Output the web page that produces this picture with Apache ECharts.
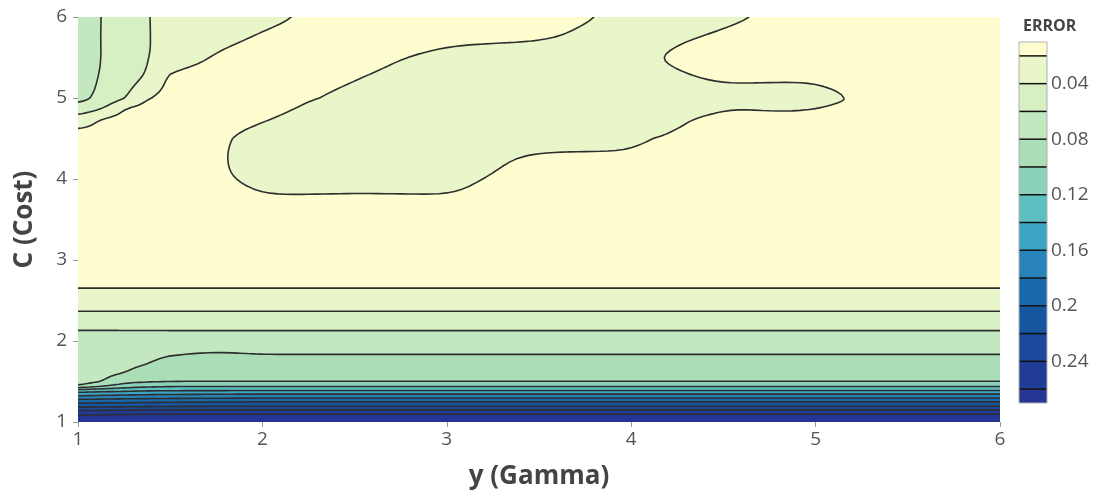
<!DOCTYPE html>
<html>
<head>
<meta charset="utf-8">
<script src="https://cdn.jsdelivr.net/npm/echarts@6/dist/echarts.min.js"></script>
<style>
  html, body { margin: 0; padding: 0; background: #fff; }
  #main { width: 1097px; height: 490px; }
</style>
</head>
<body>
<div id="main"></div>
<script>
// grid of the contour: gamma along x, cost along y
var gammaValues = [1, 1.125, 1.25, 1.375, 1.5, 1.75, 2, 2.25, 2.5, 2.75, 3, 3.25, 3.5, 3.75, 4, 4.25, 4.5, 4.75, 5, 5.25, 5.5, 5.75, 6];
var costValues = [1, 1.05, 1.1, 1.15, 1.2, 1.25, 1.3, 1.35, 1.4, 1.45, 1.5, 1.6, 1.7, 1.8, 1.9, 2, 2.25, 2.5, 2.75, 3, 3.25, 3.5, 3.75, 4, 4.25, 4.5, 4.625, 4.75, 4.875, 5, 5.25, 5.5, 5.75, 6];

// error, one row per cost value
var errorValues = [
  [0.272, 0.272, 0.272, 0.272, 0.272, 0.272, 0.272, 0.272, 0.272, 0.272, 0.272, 0.272, 0.272, 0.272, 0.272, 0.272, 0.272, 0.272, 0.272, 0.272, 0.272, 0.272, 0.272],
  [0.265, 0.2655, 0.266, 0.266, 0.266, 0.266, 0.266, 0.266, 0.266, 0.266, 0.266, 0.266, 0.266, 0.266, 0.266, 0.266, 0.266, 0.266, 0.266, 0.266, 0.266, 0.266, 0.266],
  [0.257, 0.258, 0.259, 0.26, 0.26, 0.26, 0.26, 0.26, 0.26, 0.26, 0.26, 0.26, 0.26, 0.26, 0.26, 0.26, 0.26, 0.26, 0.26, 0.26, 0.26, 0.26, 0.26],
  [0.236, 0.237, 0.238, 0.239, 0.24, 0.24, 0.24, 0.24, 0.24, 0.24, 0.24, 0.24, 0.24, 0.24, 0.24, 0.24, 0.24, 0.24, 0.24, 0.24, 0.24, 0.24, 0.24],
  [0.212, 0.213, 0.214, 0.215, 0.216, 0.217, 0.217, 0.217, 0.217, 0.217, 0.217, 0.217, 0.217, 0.217, 0.217, 0.217, 0.217, 0.217, 0.217, 0.217, 0.217, 0.217, 0.217],
  [0.194, 0.195, 0.196, 0.197, 0.198, 0.199, 0.2, 0.2, 0.2, 0.2, 0.2, 0.2, 0.2, 0.2, 0.2, 0.2, 0.2, 0.2, 0.2, 0.2, 0.2, 0.2, 0.2],
  [0.17, 0.172, 0.174, 0.175, 0.176, 0.177, 0.178, 0.178, 0.178, 0.178, 0.178, 0.178, 0.178, 0.178, 0.178, 0.178, 0.178, 0.178, 0.178, 0.178, 0.178, 0.178, 0.178],
  [0.148, 0.151, 0.153, 0.155, 0.156, 0.157, 0.158, 0.158, 0.158, 0.158, 0.158, 0.158, 0.158, 0.158, 0.158, 0.158, 0.158, 0.158, 0.158, 0.158, 0.158, 0.158, 0.158],
  [0.122, 0.126, 0.13, 0.133, 0.134, 0.1345, 0.1345, 0.1345, 0.1345, 0.1345, 0.1345, 0.1345, 0.1345, 0.1345, 0.1345, 0.1345, 0.1345, 0.1345, 0.1345, 0.1345, 0.1345, 0.1345, 0.1345],
  [0.0795, 0.095, 0.108, 0.113, 0.1155, 0.1155, 0.1155, 0.1155, 0.1155, 0.1155, 0.1155, 0.1155, 0.1155, 0.1155, 0.1155, 0.1155, 0.1155, 0.1155, 0.1155, 0.1155, 0.1155, 0.1155, 0.1155],
  [0.0775, 0.079, 0.094, 0.098, 0.0995, 0.0995, 0.0995, 0.0995, 0.0995, 0.0995, 0.0995, 0.0995, 0.0995, 0.0995, 0.0995, 0.0995, 0.0995, 0.0995, 0.0995, 0.0995, 0.0995, 0.0995, 0.0995],
  [0.075, 0.0765, 0.08, 0.089, 0.093, 0.0955, 0.0955, 0.0955, 0.0955, 0.0955, 0.0955, 0.0955, 0.0955, 0.0955, 0.0955, 0.0955, 0.0955, 0.0955, 0.0955, 0.0955, 0.0955, 0.0955, 0.0955],
  [0.0725, 0.074, 0.077, 0.0805, 0.087, 0.0905, 0.0905, 0.0905, 0.0905, 0.0905, 0.0905, 0.0905, 0.0905, 0.0905, 0.0905, 0.0905, 0.0905, 0.0905, 0.0905, 0.0905, 0.0905, 0.0905, 0.0905],
  [0.071, 0.0722, 0.0745, 0.0772, 0.0808, 0.0838, 0.0825, 0.0825, 0.0825, 0.0825, 0.0825, 0.0825, 0.0825, 0.0825, 0.0825, 0.0825, 0.0825, 0.0825, 0.0825, 0.0825, 0.0825, 0.0825, 0.0825],
  [0.0698, 0.0705, 0.072, 0.0735, 0.0755, 0.0775, 0.0755, 0.0755, 0.0755, 0.0755, 0.0755, 0.0755, 0.0755, 0.0755, 0.0755, 0.0755, 0.0755, 0.0755, 0.0755, 0.0755, 0.0755, 0.0755, 0.0755],
  [0.0685, 0.0685, 0.0685, 0.0685, 0.0685, 0.0685, 0.0685, 0.0685, 0.0685, 0.0685, 0.0685, 0.0685, 0.0685, 0.0685, 0.0685, 0.0685, 0.0685, 0.0685, 0.0685, 0.0685, 0.0685, 0.0685, 0.0685],
  [0.0508, 0.0508, 0.0508, 0.0508, 0.0508, 0.0508, 0.0508, 0.0508, 0.0508, 0.0508, 0.0508, 0.0508, 0.0508, 0.0508, 0.0508, 0.0508, 0.0508, 0.0508, 0.0508, 0.0508, 0.0508, 0.0508, 0.0508],
  [0.0283, 0.0283, 0.0283, 0.0283, 0.0283, 0.0283, 0.0283, 0.0283, 0.0283, 0.0283, 0.0283, 0.0283, 0.0283, 0.0283, 0.0283, 0.0283, 0.0283, 0.0283, 0.0283, 0.0283, 0.0283, 0.0283, 0.0283],
  [0.0159, 0.0159, 0.0159, 0.0159, 0.0159, 0.0159, 0.0159, 0.0159, 0.0159, 0.0159, 0.0159, 0.0159, 0.0159, 0.0159, 0.0159, 0.0159, 0.0159, 0.0159, 0.0159, 0.0159, 0.0159, 0.0159, 0.0159],
  [0.014, 0.014, 0.014, 0.014, 0.014, 0.014, 0.014, 0.014, 0.014, 0.014, 0.014, 0.014, 0.014, 0.014, 0.014, 0.014, 0.014, 0.014, 0.014, 0.014, 0.014, 0.014, 0.014],
  [0.013, 0.013, 0.013, 0.013, 0.013, 0.013, 0.013, 0.013, 0.013, 0.013, 0.013, 0.013, 0.013, 0.013, 0.013, 0.013, 0.013, 0.013, 0.013, 0.013, 0.013, 0.013, 0.013],
  [0.0125, 0.0125, 0.0125, 0.0125, 0.0125, 0.0125, 0.0125, 0.0125, 0.0125, 0.0125, 0.0125, 0.0125, 0.0125, 0.0125, 0.0125, 0.0125, 0.0125, 0.0125, 0.0125, 0.0125, 0.0125, 0.0125, 0.0125],
  [0.012, 0.012, 0.012, 0.012, 0.012, 0.0145, 0.0183, 0.0172, 0.0157, 0.0166, 0.0185, 0.016, 0.0125, 0.012, 0.012, 0.012, 0.012, 0.012, 0.012, 0.012, 0.012, 0.012, 0.012],
  [0.012, 0.012, 0.012, 0.012, 0.013, 0.018, 0.023, 0.028, 0.03, 0.0288, 0.0238, 0.0188, 0.0138, 0.012, 0.012, 0.012, 0.012, 0.012, 0.012, 0.012, 0.012, 0.012, 0.012],
  [0.012, 0.012, 0.012, 0.012, 0.0138, 0.0188, 0.0238, 0.0288, 0.03, 0.03, 0.0284, 0.0234, 0.016, 0.0157, 0.0172, 0.012, 0.012, 0.012, 0.012, 0.012, 0.012, 0.012, 0.012],
  [0.017, 0.0145, 0.012, 0.012, 0.0133, 0.0183, 0.0233, 0.0283, 0.03, 0.03, 0.03, 0.03, 0.03, 0.0276, 0.0226, 0.0176, 0.0126, 0.012, 0.012, 0.012, 0.012, 0.012, 0.012],
  [0.0195, 0.017, 0.0145, 0.012, 0.012, 0.0166, 0.0216, 0.0266, 0.03, 0.03, 0.03, 0.03, 0.03, 0.03, 0.0251, 0.0201, 0.0151, 0.012, 0.012, 0.012, 0.012, 0.012, 0.012],
  [0.0343, 0.0196, 0.0171, 0.0146, 0.0121, 0.0138, 0.0188, 0.0238, 0.0288, 0.03, 0.03, 0.03, 0.03, 0.03, 0.0278, 0.0228, 0.016, 0.0174, 0.0163, 0.013, 0.012, 0.012, 0.012],
  [0.0521, 0.0425, 0.0196, 0.0171, 0.0146, 0.012, 0.0164, 0.0214, 0.0264, 0.03, 0.03, 0.03, 0.03, 0.03, 0.03, 0.03, 0.021, 0.021, 0.0205, 0.0143, 0.012, 0.012, 0.012],
  [0.066, 0.0545, 0.042, 0.0196, 0.0171, 0.0121, 0.014, 0.019, 0.024, 0.029, 0.03, 0.03, 0.03, 0.03, 0.03, 0.028, 0.025, 0.025, 0.0245, 0.0181, 0.0134, 0.012, 0.012],
  [0.068, 0.0585, 0.0488, 0.0379, 0.016, 0.0142, 0.012, 0.0142, 0.0192, 0.0242, 0.0292, 0.03, 0.03, 0.03, 0.0272, 0.0222, 0.018, 0.0181, 0.0178, 0.013, 0.012, 0.012, 0.012],
  [0.07, 0.0598, 0.05, 0.0408, 0.031, 0.0178, 0.0128, 0.012, 0.0144, 0.0194, 0.0244, 0.0294, 0.03, 0.028, 0.023, 0.018, 0.013, 0.012, 0.012, 0.012, 0.012, 0.012, 0.012],
  [0.071, 0.0595, 0.0504, 0.0405, 0.0357, 0.026, 0.0181, 0.0131, 0.012, 0.013, 0.0156, 0.0156, 0.0178, 0.0234, 0.0272, 0.0222, 0.0172, 0.0122, 0.012, 0.012, 0.012, 0.012, 0.012],
  [0.072, 0.0597, 0.05, 0.0402, 0.037, 0.0306, 0.0243, 0.0184, 0.0134, 0.012, 0.012, 0.012, 0.0136, 0.0186, 0.0236, 0.0284, 0.0234, 0.0184, 0.0134, 0.012, 0.012, 0.012, 0.012]
];

var contourLevels = [0.02, 0.04, 0.06, 0.08, 0.1, 0.12, 0.14, 0.16, 0.18, 0.2, 0.22, 0.24, 0.26];
var colorbarRange = [0.01, 0.27];
var colorbarTicks = [0.04, 0.08, 0.12, 0.16, 0.2, 0.24];
var bandColors = ['#fefdd0', '#e8f6ca', '#d6efc3', '#c3e8bf', '#abdeb7', '#8bd1bb', '#5cc0c0',
                  '#3ba3c3', '#2783ba', '#1868ac', '#1656a1', '#1c489b', '#213c96', '#263594'];

errorValues.forEach(function (r, j) {
  if (r.length !== gammaValues.length) throw new Error('row ' + j + ' has ' + r.length + ' values');
});
if (errorValues.length !== costValues.length) throw new Error('rows: ' + errorValues.length);

var SUB = 6;          // sub-steps between grid nodes
var SMOOTH = 0.3 * SUB; // gaussian smoothing of the contour surface (in sub-steps)

function catmull(p0, p1, p2, p3, t) {
  var t2 = t * t, t3 = t2 * t;
  return 0.5 * (2 * p1 + (p2 - p0) * t + (2 * p0 - 5 * p1 + 4 * p2 - p3) * t2 + (3 * p1 - p0 - 3 * p2 + p3) * t3);
}

function refine(arr, linear) {
  var n = arr.length, out = [];
  for (var i = 0; i < n - 1; i++) {
    for (var s = 0; s < SUB; s++) {
      var t = s / SUB;
      if (linear) out.push(arr[i] + (arr[i + 1] - arr[i]) * t);
      else out.push(catmull(arr[Math.max(i - 1, 0)], arr[i], arr[i + 1], arr[Math.min(i + 2, n - 1)], t));
    }
  }
  out.push(arr[n - 1]);
  return out;
}

function blur1d(arr) {
  var r = Math.ceil(3 * SMOOTH), w = [], sum = 0, n = arr.length, out = [];
  for (var k = -r; k <= r; k++) { var g = Math.exp(-k * k / (2 * SMOOTH * SMOOTH)); w.push(g); sum += g; }
  for (var i = 0; i < n; i++) {
    var acc = 0;
    for (var k2 = -r; k2 <= r; k2++) acc += w[k2 + r] * arr[Math.min(n - 1, Math.max(0, i + k2))];
    out.push(acc / sum);
  }
  return out;
}

function f(v) { return v.toFixed(2); }

function renderContour(params, api) {
  var gFine = refine(gammaValues, true);
  var cFine = refine(costValues, true);
  var px = gFine.map(function (g) { return api.coord([g, costValues[0]])[0]; });
  var py = cFine.map(function (c) { return api.coord([gammaValues[0], c])[1]; });

  var rowsFine = errorValues.map(function (r) { return blur1d(refine(r)); });
  var z = [];
  for (var k = 0; k < cFine.length; k++) z.push([]);
  for (var i = 0; i < gFine.length; i++) {
    var col = blur1d(refine(rowsFine.map(function (r) { return r[i]; })));
    for (var k2 = 0; k2 < col.length; k2++) z[k2][i] = col[k2];
  }

  var children = [{
    type: 'rect',
    shape: { x: px[0], y: py[py.length - 1], width: px[px.length - 1] - px[0], height: py[0] - py[py.length - 1] },
    style: { fill: bandColors[0] }
  }];

  var lines = [];
  contourLevels.forEach(function (L, li) {
    var d = [], seg = [];
    for (var k = 0; k < cFine.length - 1; k++) {
      var runStart = -1;
      for (var i = 0; i <= gFine.length - 1; i++) {
        var full = i < gFine.length - 1 &&
          z[k][i] >= L && z[k][i + 1] >= L && z[k + 1][i + 1] >= L && z[k + 1][i] >= L;
        if (full) { if (runStart < 0) runStart = i; continue; }
        if (runStart >= 0) {
          d.push('M' + f(px[runStart]) + ' ' + f(py[k]) + 'L' + f(px[i]) + ' ' + f(py[k]) +
                 'L' + f(px[i]) + ' ' + f(py[k + 1]) + 'L' + f(px[runStart]) + ' ' + f(py[k + 1]) + 'Z');
          runStart = -1;
        }
        if (i === gFine.length - 1) break;
        var pts = [[px[i], py[k]], [px[i + 1], py[k]], [px[i + 1], py[k + 1]], [px[i], py[k + 1]]];
        var vals = [z[k][i], z[k][i + 1], z[k + 1][i + 1], z[k + 1][i]];
        if (vals[0] < L && vals[1] < L && vals[2] < L && vals[3] < L) continue;
        var poly = [], cross = [];
        for (var m = 0; m < 4; m++) {
          var a = pts[m], b = pts[(m + 1) % 4], va = vals[m], vb = vals[(m + 1) % 4];
          var ina = va >= L, inb = vb >= L;
          if (ina) poly.push(a);
          if (ina !== inb) {
            var t = (L - va) / (vb - va);
            var p = [a[0] + (b[0] - a[0]) * t, a[1] + (b[1] - a[1]) * t];
            poly.push(p);
            cross.push({ p: p, exit: ina });
          }
        }
        d.push('M' + poly.map(function (q) { return f(q[0]) + ' ' + f(q[1]); }).join('L') + 'Z');
        for (var c = 0; c < cross.length; c++) {
          if (cross[c].exit) {
            var nx = cross[(c + 1) % cross.length];
            seg.push('M' + f(cross[c].p[0]) + ' ' + f(cross[c].p[1]) + 'L' + f(nx.p[0]) + ' ' + f(nx.p[1]));
          }
        }
      }
    }
    if (d.length) {
      children.push({ type: 'path', shape: { pathData: d.join('') }, style: { fill: bandColors[li + 1] } });
    }
    if (seg.length) lines.push(seg.join(''));
  });

  lines.forEach(function (s) {
    children.push({
      type: 'path',
      shape: { pathData: s },
      style: { fill: null, stroke: '#2e2e2e', lineWidth: 1.6, lineCap: 'round', lineJoin: 'round' }
    });
  });

  return { type: 'group', children: children };
}

// colorbar bands [lo, hi, colour index]; last item is the frame
var bounds = [colorbarRange[0]].concat(contourLevels, [colorbarRange[1]]);
var colorbarData = [];
for (var b = 0; b < bounds.length - 1; b++) colorbarData.push([bounds[b], bounds[b + 1], b]);
colorbarData.push([colorbarRange[0], colorbarRange[1], -1]);

function renderColorbar(params, api) {
  var lo = api.value(0), hi = api.value(1), idx = api.value(2);
  var p0 = api.coord([0, lo]), p1 = api.coord([1, hi]);
  var rect = { x: p0[0], y: p0[1], width: p1[0] - p0[0], height: p1[1] - p0[1] };
  if (idx < 0) {
    return { type: 'rect', shape: rect, style: { fill: null, stroke: '#b0b0b0', lineWidth: 1 } };
  }
  var kids = [{ type: 'rect', shape: rect, style: { fill: bandColors[idx] } }];
  if (idx > 0) {
    kids.push({ type: 'line', shape: { x1: p0[0], y1: p0[1], x2: p1[0], y2: p0[1] },
      style: { stroke: '#111', lineWidth: 1.5 } });
  }
  return { type: 'group', children: kids };
}

var chart = echarts.init(document.getElementById('main'), null, { renderer: 'canvas' });
var font = 'Open Sans';
chart.setOption({
  animation: false,
  backgroundColor: '#fff',
  title: {
    text: 'ERROR', left: 1018, top: 13,
    textStyle: { fontFamily: font, fontSize: 16, fontWeight: 'bold', color: '#444' }
  },
  grid: [
    { left: 78, right: 97, top: 17, bottom: 68, containLabel: false, outerBoundsMode: 'none' },
    { left: 1019, top: 42, width: 28, height: 361, containLabel: false, outerBoundsMode: 'none' }
  ],
  xAxis: [{
    type: 'value', min: 1, max: 6, interval: 1, gridIndex: 0,
    name: 'y (Gamma)', nameLocation: 'middle', nameGap: 42,
    nameTextStyle: { fontFamily: font, fontSize: 26, fontWeight: 'bold', color: '#444' },
    axisLine: { show: false },
    axisTick: { show: true, length: 5, lineStyle: { color: '#999' } },
    axisLabel: { fontFamily: font, fontSize: 19, color: '#555', margin: 8, showMinLabel: true, showMaxLabel: true },
    splitLine: { show: false }
  }, {
    type: 'value', min: 0, max: 1, gridIndex: 1, show: false
  }],
  yAxis: [{
    type: 'value', min: 1, max: 6, interval: 1, gridIndex: 0,
    name: 'C (Cost)', nameLocation: 'middle', nameGap: 40,
    nameTextStyle: { fontFamily: font, fontSize: 26, fontWeight: 'bold', color: '#444' },
    axisLine: { show: false },
    axisTick: { show: true, length: 5, lineStyle: { color: '#999' } },
    axisLabel: { fontFamily: font, fontSize: 19, color: '#555', margin: 11, showMinLabel: true, showMaxLabel: true },
    splitLine: { show: false }
  }, {
    type: 'value', min: colorbarRange[0], max: colorbarRange[1], inverse: true, gridIndex: 1,
    position: 'right',
    axisLine: { show: false }, axisTick: { show: false }, splitLine: { show: false },
    axisLabel: {
      customValues: colorbarTicks, fontFamily: font, fontSize: 19, color: '#555', margin: 4,
      formatter: function (v) { return String(Math.round(v * 100) / 100); }
    }
  }],
  series: [{
    type: 'custom', coordinateSystem: 'cartesian2d', xAxisIndex: 0, yAxisIndex: 0,
    data: [[1, 1]], renderItem: renderContour, silent: true, clip: true
  }, {
    type: 'custom', coordinateSystem: 'cartesian2d', xAxisIndex: 1, yAxisIndex: 1,
    data: colorbarData, renderItem: renderColorbar, silent: true,
    encode: { x: [], y: [0, 1] }
  }]
});
</script>
</body>
</html>
